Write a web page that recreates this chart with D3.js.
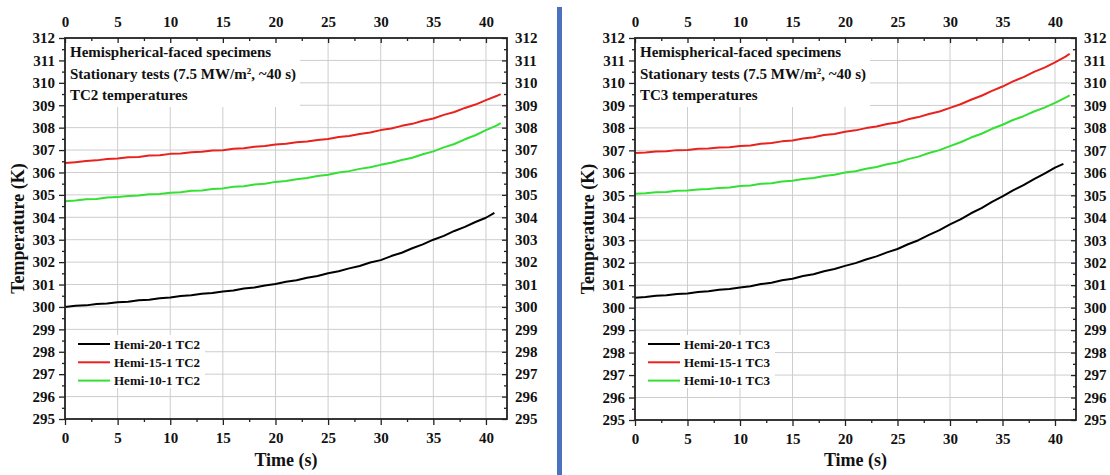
<!DOCTYPE html>
<html>
<head>
<meta charset="utf-8">
<script src="https://cdn.jsdelivr.net/npm/d3@7/dist/d3.min.js"></script>
<style>
  html, body { margin: 0; padding: 0; background: #fff; }
  svg text { font-family: "Liberation Serif", "Times New Roman", serif; font-weight: bold; fill: #111; }
</style>
</head>
<body>
<svg id="chart" width="1110" height="475"></svg>
<script>
// Time axis (s) and tick values
const timeTicks = [0, 5, 10, 15, 20, 25, 30, 35, 40];
const tempTicks = [295, 296, 297, 298, 299, 300, 301, 302, 303, 304, 305, 306, 307, 308, 309, 310, 311, 312];

// Sample times: one reading per second, last reading at end of exposure
const timeA = [0,1,2,3,4,5,6,7,8,9,10,11,12,13,14,15,16,17,18,19,20,21,22,23,24,25,26,27,28,29,30,31,32,33,34,35,36,37,38,39,40,40.8];
const timeB = [0,1,2,3,4,5,6,7,8,9,10,11,12,13,14,15,16,17,18,19,20,21,22,23,24,25,26,27,28,29,30,31,32,33,34,35,36,37,38,39,40,41,41.4];

// TC2 temperatures (K)
const tc2Hemi20 = [300.00,300.05,300.07,300.13,300.15,300.21,300.23,300.30,300.32,300.39,300.42,300.49,300.52,300.59,300.62,300.69,300.73,300.82,300.87,300.96,301.02,301.12,301.19,301.30,301.38,301.50,301.59,301.72,301.83,301.98,302.09,302.27,302.42,302.62,302.79,303.00,303.17,303.39,303.57,303.79,303.98,304.20];
const tc2Hemi15 = [306.42,306.46,306.51,306.54,306.60,306.62,306.68,306.69,306.76,306.77,306.83,306.85,306.90,306.92,306.98,306.99,307.06,307.08,307.15,307.18,307.25,307.28,307.35,307.38,307.45,307.49,307.58,307.63,307.72,307.78,307.89,307.96,308.08,308.17,308.31,308.41,308.57,308.70,308.88,309.03,309.23,309.41,309.50];
const tc2Hemi10 = [304.72,304.75,304.80,304.82,304.88,304.90,304.95,304.97,305.03,305.04,305.10,305.12,305.18,305.20,305.26,305.29,305.36,305.39,305.46,305.50,305.58,305.62,305.70,305.75,305.84,305.90,306.00,306.06,306.16,306.23,306.34,306.43,306.56,306.66,306.81,306.94,307.12,307.27,307.48,307.66,307.89,308.09,308.20];

// TC3 temperatures (K)
const tc3Hemi20 = [300.44,300.47,300.53,300.55,300.61,300.63,300.70,300.73,300.80,300.83,300.90,300.95,301.05,301.11,301.22,301.29,301.41,301.49,301.62,301.72,301.86,301.98,302.14,302.28,302.46,302.61,302.82,303.00,303.24,303.45,303.71,303.93,304.20,304.43,304.71,304.95,305.22,305.45,305.72,305.96,306.23,306.40];
const tc3Hemi15 = [306.88,306.90,306.95,306.96,307.01,307.02,307.07,307.08,307.13,307.14,307.19,307.22,307.29,307.33,307.40,307.44,307.53,307.58,307.68,307.73,307.83,307.89,307.99,308.06,308.17,308.24,308.38,308.48,308.62,308.73,308.89,309.05,309.25,309.43,309.65,309.84,310.07,310.26,310.49,310.68,310.92,311.17,311.30];
const tc3Hemi10 = [305.07,305.09,305.14,305.15,305.20,305.21,305.26,305.28,305.33,305.35,305.41,305.44,305.51,305.54,305.61,305.65,305.73,305.77,305.86,305.91,306.01,306.07,306.18,306.26,306.38,306.46,306.61,306.72,306.88,307.01,307.19,307.36,307.57,307.74,307.96,308.14,308.35,308.52,308.73,308.90,309.11,309.35,309.45];

const seriesNames = ["Hemi-20-1", "Hemi-15-1", "Hemi-10-1"];
const seriesColors = ["#000000", "#e8231f", "#35e035"];

const svg = d3.select("#chart");

// Divider between the two panels
svg.append("rect")
  .attr("x", 557).attr("y", 7).attr("width", 5).attr("height", 468)
  .attr("fill", "#4a72bf");

function drawPanel(p) {
  const g = svg.append("g");
  const x = d3.scaleLinear().domain([0, 42]).range([p.left, p.right]);
  const y = d3.scaleLinear().domain([295, 312]).range([p.bottom, p.top]);

  // Grid
  const grid = g.append("g").attr("stroke", "#cdcdcd").attr("stroke-width", 1);
  grid.selectAll("line.v").data(timeTicks.filter(t => t > 0))
    .join("line").attr("class", "v")
    .attr("x1", d => x(d)).attr("x2", d => x(d))
    .attr("y1", p.top).attr("y2", p.bottom);
  grid.selectAll("line.h").data(tempTicks.filter(t => t > 295 && t < 312))
    .join("line").attr("class", "h")
    .attr("x1", p.left).attr("x2", p.right)
    .attr("y1", d => y(d)).attr("y2", d => y(d));

  // White boxes behind the annotation text and the legend
  g.append("rect").attr("x", p.left + 1).attr("y", p.top + 1)
    .attr("width", 234).attr("height", 68).attr("fill", "#fff");
  g.append("rect").attr("x", p.left + 1).attr("y", 335)
    .attr("width", 139).attr("height", 53).attr("fill", "#fff");

  // Curves
  const line = d3.line().x(d => x(d[0])).y(d => y(d[1]));
  p.series.forEach((s, i) => {
    const pts = s.t.map((t, k) => [t, s.v[k]]);
    g.append("path").datum(pts)
      .attr("d", line)
      .attr("fill", "none")
      .attr("stroke", seriesColors[i])
      .attr("stroke-width", 2)
      .attr("stroke-linejoin", "round");
  });

  const minorT = d3.range(2.5, 42, 5);
  const minorY = d3.range(295.5, 312, 1);
  const fs = "15px";

  // Left axis (outward ticks)
  g.append("g").attr("transform", `translate(${p.left},0)`)
    .call(d3.axisLeft(y).tickValues(tempTicks).tickFormat(d3.format("d")).tickSize(6).tickPadding(4));
  g.append("g").attr("transform", `translate(${p.left},0)`)
    .call(d3.axisLeft(y).tickValues(minorY).tickFormat("").tickSize(3));
  // Right axis (inward ticks)
  g.append("g").attr("transform", `translate(${p.right},0)`)
    .call(d3.axisRight(y).tickValues(tempTicks).tickFormat(d3.format("d")).tickSize(-5).tickPadding(8));
  g.append("g").attr("transform", `translate(${p.right},0)`)
    .call(d3.axisRight(y).tickValues(minorY).tickFormat("").tickSize(-3));
  // Bottom axis (outward ticks)
  g.append("g").attr("transform", `translate(0,${p.bottom})`)
    .call(d3.axisBottom(x).tickValues(timeTicks).tickFormat(d3.format("d")).tickSize(6).tickPadding(7));
  g.append("g").attr("transform", `translate(0,${p.bottom})`)
    .call(d3.axisBottom(x).tickValues(minorT).tickFormat("").tickSize(3));
  // Top axis (inward ticks)
  g.append("g").attr("transform", `translate(0,${p.top})`)
    .call(d3.axisTop(x).tickValues(timeTicks).tickFormat(d3.format("d")).tickSize(-5).tickPadding(11));
  g.append("g").attr("transform", `translate(0,${p.top})`)
    .call(d3.axisTop(x).tickValues(minorT).tickFormat("").tickSize(-3));

  g.selectAll(".domain").remove();
  g.selectAll(".tick line").attr("stroke", "#222").attr("stroke-width", 1.3);
  g.selectAll(".tick text").style("font-size", fs).attr("fill", "#111");

  // Frame
  g.append("rect")
    .attr("x", p.left).attr("y", p.top)
    .attr("width", p.right - p.left).attr("height", p.bottom - p.top)
    .attr("fill", "none").attr("stroke", "#222").attr("stroke-width", 1.8);

  // Annotation
  const ann = g.append("text").attr("x", p.left + 5).style("font-size", "15px");
  ann.append("tspan").attr("x", p.left + 5).attr("y", p.top + 19).text("Hemispherical-faced specimens");
  const l2 = ann.append("tspan").attr("x", p.left + 5).attr("y", p.top + 41);
  l2.append("tspan").text("Stationary tests (7.5 MW/m");
  l2.append("tspan").attr("dy", -5).style("font-size", "9px").text("2");
  l2.append("tspan").attr("dy", 5).text(", ~40 s)");
  ann.append("tspan").attr("x", p.left + 5).attr("y", p.top + 62).text(p.tc + " temperatures");

  // Legend
  seriesNames.forEach((n, i) => {
    const ly = 344 + i * 18.3;
    g.append("line")
      .attr("x1", p.left + 13).attr("x2", p.left + 45)
      .attr("y1", ly).attr("y2", ly)
      .attr("stroke", seriesColors[i]).attr("stroke-width", 2);
    g.append("text").attr("x", p.left + 49).attr("y", ly + 4.5)
      .style("font-size", "13px").text(n + " " + p.tc);
  });

  // Axis titles
  g.append("text")
    .attr("x", (p.left + p.right) / 2).attr("y", 466)
    .attr("text-anchor", "middle").style("font-size", "18px")
    .text("Time (s)");
  g.append("text")
    .attr("transform", `translate(${p.left - 41},${(p.top + p.bottom) / 2}) rotate(-90)`)
    .attr("text-anchor", "middle").style("font-size", "18px")
    .text("Temperature (K)");
}

drawPanel({
  left: 65, right: 507, top: 38, bottom: 419, tc: "TC2",
  series: [
    { t: timeA, v: tc2Hemi20 },
    { t: timeB, v: tc2Hemi15 },
    { t: timeB, v: tc2Hemi10 }
  ]
});

drawPanel({
  left: 635, right: 1076, top: 38, bottom: 420, tc: "TC3",
  series: [
    { t: timeA, v: tc3Hemi20 },
    { t: timeB, v: tc3Hemi15 },
    { t: timeB, v: tc3Hemi10 }
  ]
});
</script>
</body>
</html>
